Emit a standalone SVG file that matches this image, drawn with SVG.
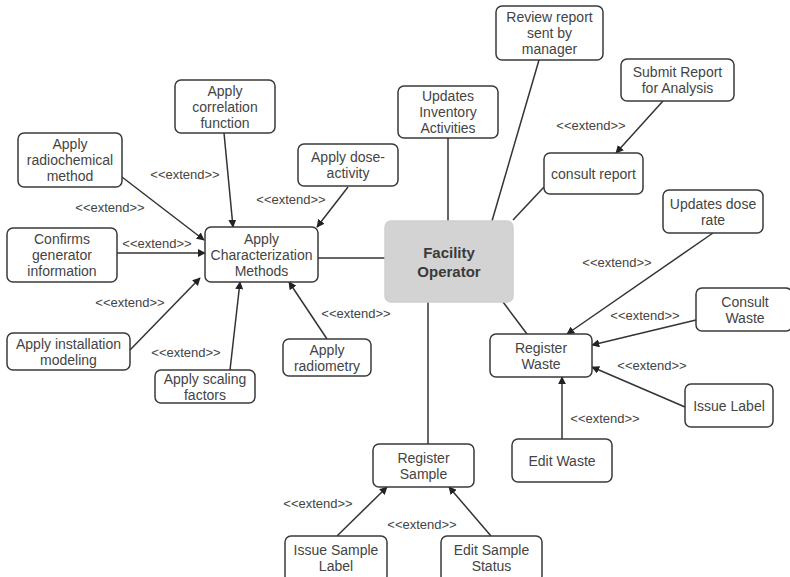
<svg xmlns="http://www.w3.org/2000/svg" width="790" height="577" viewBox="0 0 790 577">
<style>
.n rect{fill:#fff;stroke:#3a3a3a;stroke-width:1.5}
.n text,.lbl{font-family:"Liberation Sans",Arial,sans-serif;fill:#444;text-anchor:middle;dominant-baseline:central}
.n text{font-size:14px}
.lbl{font-size:13px}
#fo rect{fill:#d3d3d3;stroke:#d0d0d0}
#fo text{font-weight:bold;font-size:15px;fill:#3a3a3a}
.c line{stroke:#333;stroke-width:1.5}
.c .e{marker-end:url(#ah)}
</style>
<defs>
<marker id="ah" viewBox="0 0 10 10" refX="9" refY="5" markerWidth="8" markerHeight="8" markerUnits="userSpaceOnUse" orient="auto">
<path d="M0,0 L10,5 L0,10 z" fill="#222"/>
</marker>
</defs>
<rect width="790" height="577" fill="#fff"/>
<g id="connectors" class="c">
<line x1="318" y1="258" x2="385" y2="258"/>
<line x1="448" y1="138" x2="448" y2="221"/>
<line x1="539" y1="60" x2="492" y2="221"/>
<line x1="544" y1="187" x2="513" y2="220"/>
<line x1="503" y1="302" x2="527" y2="334"/>
<line x1="428" y1="302" x2="428" y2="444"/>
<line class="e" x1="224" y1="133" x2="233" y2="227"/>
<line class="e" x1="122" y1="177" x2="204" y2="240"/>
<line class="e" x1="117" y1="253" x2="205" y2="253"/>
<line class="e" x1="348" y1="187" x2="317" y2="227"/>
<line class="e" x1="130" y1="350" x2="200" y2="278"/>
<line class="e" x1="230" y1="370" x2="240" y2="282"/>
<line class="e" x1="327" y1="339" x2="289" y2="282"/>
<line class="e" x1="663" y1="101" x2="616" y2="153"/>
<line class="e" x1="713" y1="233" x2="567" y2="334"/>
<line class="e" x1="696" y1="320" x2="592" y2="345"/>
<line class="e" x1="685" y1="407" x2="592" y2="367"/>
<line class="e" x1="562" y1="439" x2="562" y2="377"/>
<line class="e" x1="337" y1="536" x2="387" y2="487"/>
<line class="e" x1="491" y1="536" x2="449" y2="487"/>
<text class="lbl" x="185" y="174">&lt;&lt;extend&gt;&gt;</text>
<text class="lbl" x="110" y="207">&lt;&lt;extend&gt;&gt;</text>
<text class="lbl" x="157" y="243">&lt;&lt;extend&gt;&gt;</text>
<text class="lbl" x="291" y="199">&lt;&lt;extend&gt;&gt;</text>
<text class="lbl" x="130" y="302">&lt;&lt;extend&gt;&gt;</text>
<text class="lbl" x="186" y="352">&lt;&lt;extend&gt;&gt;</text>
<text class="lbl" x="356" y="313">&lt;&lt;extend&gt;&gt;</text>
<text class="lbl" x="591" y="125">&lt;&lt;extend&gt;&gt;</text>
<text class="lbl" x="617" y="262">&lt;&lt;extend&gt;&gt;</text>
<text class="lbl" x="645" y="315">&lt;&lt;extend&gt;&gt;</text>
<text class="lbl" x="652" y="365">&lt;&lt;extend&gt;&gt;</text>
<text class="lbl" x="605" y="418">&lt;&lt;extend&gt;&gt;</text>
<text class="lbl" x="318" y="503">&lt;&lt;extend&gt;&gt;</text>
<text class="lbl" x="422" y="524">&lt;&lt;extend&gt;&gt;</text>
</g>
<g id="corr" class="n"><rect x="175" y="80" width="100" height="53" rx="6"/><text x="225" y="90.5">Apply</text><text x="225" y="106.5">correlation</text><text x="225" y="122.5">function</text></g>
<g id="radiochem" class="n"><rect x="18" y="133" width="104" height="54" rx="6"/><text x="70" y="144">Apply</text><text x="70" y="160">radiochemical</text><text x="70" y="176">method</text></g>
<g id="dose" class="n"><rect x="298" y="144" width="100" height="42" rx="6"/><text x="348" y="157">Apply dose-</text><text x="348" y="173">activity</text></g>
<g id="confirms" class="n"><rect x="7" y="228" width="110" height="54" rx="6"/><text x="62" y="239">Confirms</text><text x="62" y="255">generator</text><text x="62" y="271">information</text></g>
<g id="acm" class="n"><rect x="205" y="227" width="113" height="55" rx="6"/><text x="261.5" y="238.5">Apply</text><text x="261.5" y="254.5">Characterization</text><text x="261.5" y="270.5">Methods</text></g>
<g id="install" class="n"><rect x="7" y="333" width="123" height="37" rx="6"/><text x="68.5" y="343.5">Apply installation</text><text x="68.5" y="359.5">modeling</text></g>
<g id="scaling" class="n"><rect x="155" y="370" width="100" height="33" rx="6"/><text x="205" y="378.5">Apply scaling</text><text x="205" y="394.5">factors</text></g>
<g id="radiometry" class="n"><rect x="283" y="339" width="88" height="37" rx="6"/><text x="327" y="349.5">Apply</text><text x="327" y="365.5">radiometry</text></g>
<g id="review" class="n"><rect x="496" y="6" width="107" height="54" rx="6"/><text x="549.5" y="17">Review report</text><text x="549.5" y="33">sent by</text><text x="549.5" y="49">manager</text></g>
<g id="submit" class="n"><rect x="621" y="59" width="113" height="42" rx="6"/><text x="677.5" y="72">Submit Report</text><text x="677.5" y="88">for Analysis</text></g>
<g id="inventory" class="n"><rect x="398" y="86" width="100" height="52" rx="6"/><text x="448" y="96">Updates</text><text x="448" y="112">Inventory</text><text x="448" y="128">Activities</text></g>
<g id="consultreport" class="n"><rect x="544" y="153" width="99" height="41" rx="6"/><text x="593.5" y="173.5">consult report</text></g>
<g id="doserate" class="n"><rect x="663" y="190" width="100" height="43" rx="6"/><text x="713" y="203.5">Updates dose</text><text x="713" y="219.5">rate</text></g>
<g id="fo" class="n"><rect x="385" y="221" width="128" height="81" rx="6"/><text x="449" y="252">Facility</text><text x="449" y="271">Operator</text></g>
<g id="consultwaste" class="n"><rect x="696" y="288" width="96" height="43" rx="6"/><text x="745" y="301.5">Consult</text><text x="745" y="317.5">Waste</text></g>
<g id="registerwaste" class="n"><rect x="490" y="334" width="102" height="43" rx="6"/><text x="541" y="347.5">Register</text><text x="541" y="363.5">Waste</text></g>
<g id="issuelabel" class="n"><rect x="685" y="384" width="88" height="43" rx="6"/><text x="729" y="405.5">Issue Label</text></g>
<g id="editwaste" class="n"><rect x="512" y="439" width="100" height="43" rx="6"/><text x="562" y="460.5">Edit Waste</text></g>
<g id="registersample" class="n"><rect x="373" y="444" width="101" height="43" rx="6"/><text x="423.5" y="457.5">Register</text><text x="423.5" y="473.5">Sample</text></g>
<g id="issuesamplelabel" class="n"><rect x="285" y="536" width="102" height="46" rx="6"/><text x="336" y="550">Issue Sample</text><text x="336" y="566">Label</text></g>
<g id="editsamplestatus" class="n"><rect x="441" y="536" width="101" height="46" rx="6"/><text x="491.5" y="550">Edit Sample</text><text x="491.5" y="566">Status</text></g>
</svg>
